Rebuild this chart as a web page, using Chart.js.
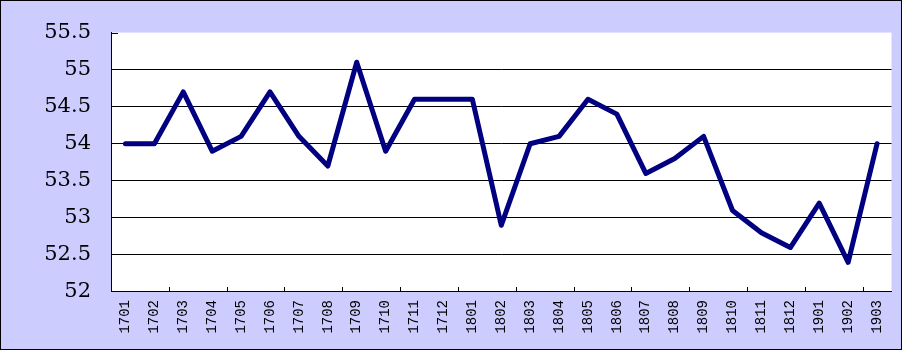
<!DOCTYPE html>
<html>
<head>
<meta charset="utf-8">
<script src="https://cdn.jsdelivr.net/npm/chart.js@4.4.0/dist/chart.umd.min.js"></script>
<style>
  html, body { margin: 0; padding: 0; background: #ccccff; }
  #wrap { width: 902px; height: 350px; position: relative; }
</style>
</head>
<body>
<div id="wrap"><canvas id="c"></canvas></div>
<script>
const categories = ['1701','1702','1703','1704','1705','1706','1707','1708','1709','1710','1711','1712',
    '1801','1802','1803','1804','1805','1806','1807','1808','1809','1810','1811','1812',
    '1901','1902','1903'];
const values = [54.0, 54.0, 54.7, 53.9, 54.1, 54.7, 54.1, 53.7, 55.1, 53.9, 54.6, 54.6,
    54.6, 52.9, 54.0, 54.1, 54.6, 54.4, 53.6, 53.8, 54.1, 53.1, 52.8, 52.6,
    53.2, 52.4, 54.0];
const yMin = 52, yMax = 55.5, yStep = 0.5;

// background, frame, white plot area and the small inside tick marks
const frame = {
    id: 'frame',
    beforeDraw(chart) {
        const {ctx, chartArea: a, width, height} = chart;
        ctx.save();
        ctx.fillStyle = '#ccccff';
        ctx.fillRect(0, 0, width, height);
        ctx.strokeStyle = '#000';
        ctx.lineWidth = 1;
        ctx.strokeRect(0.5, 0.5, width - 1, height - 1);
        ctx.fillStyle = '#fff';
        ctx.fillRect(a.left, a.top, a.right - a.left, a.bottom - a.top);
        ctx.restore();
    },
    afterDatasetsDraw(chart) {
        const {ctx, chartArea: a, scales: {x, y}} = chart;
        ctx.save();
        ctx.strokeStyle = '#000';
        ctx.lineWidth = 1;
        ctx.beginPath();
        for (let i = 2; i < categories.length; i += 2) {
            const px = Math.round((x.getPixelForValue(i - 1) + x.getPixelForValue(i)) / 2) + 0.5;
            ctx.moveTo(px, a.bottom);
            ctx.lineTo(px, a.bottom - 5);
        }
        const ty = Math.round(y.getPixelForValue(yMax)) + 0.5;
        ctx.moveTo(a.left, ty);
        ctx.lineTo(a.left + 7, ty);
        ctx.stroke();
        ctx.restore();
    }
};

new Chart(document.getElementById('c'), {
    type: 'line',
    data: {
        labels: categories,
        datasets: [{
            data: values,
            borderColor: '#000080',
            borderWidth: 5,
            borderJoinStyle: 'round',
            borderCapStyle: 'round',
            pointRadius: 0,
            tension: 0,
            fill: false
        }]
    },
    options: {
        responsive: true,
        maintainAspectRatio: false,
        animation: false,
        layout: { padding: { left: 0, right: 8, top: 31.4, bottom: 8.4 } },
        plugins: { legend: { display: false }, tooltip: { enabled: false } },
        scales: {
            x: {
                offset: true,
                grid: { display: true, color: 'transparent', drawTicks: false, offset: true },
                border: { display: true, color: '#000', width: 1 },
                ticks: {
                    autoSkip: false,
                    minRotation: 90,
                    maxRotation: 90,
                    padding: 8,
                    color: '#000',
                    font: { family: 'Liberation Mono', size: 14 }
                }
            },
            y: {
                min: yMin,
                max: yMax,
                grid: {
                    drawTicks: false,
                    color: c => (c.tick && c.tick.value === yMax) ? 'transparent' : '#000',
                    lineWidth: 1
                },
                border: { display: true, color: '#000', width: 1 },
                ticks: {
                    stepSize: yStep,
                    padding: 20,
                    color: '#000',
                    font: { family: 'DejaVu Serif', size: 21 },
                    callback: v => String(v)
                },
                afterFit(s) { s.width = 111; }
            }
        }
    },
    plugins: [frame]
});
</script>
</body>
</html>
